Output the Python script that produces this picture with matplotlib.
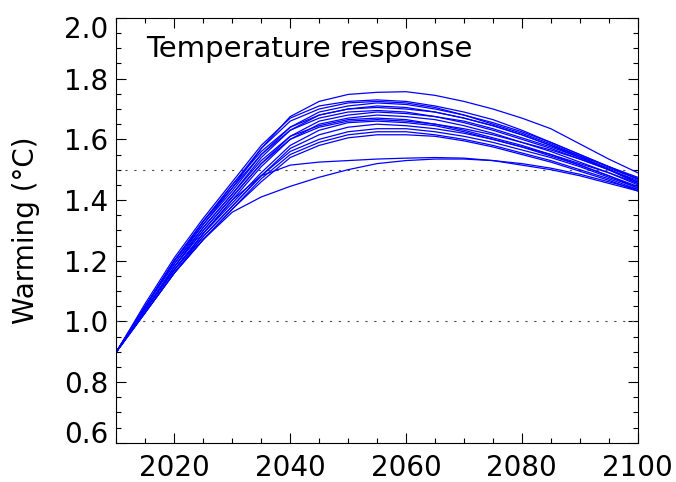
import numpy as np
import matplotlib
matplotlib.use("Agg")
import matplotlib.pyplot as plt
from matplotlib.ticker import MultipleLocator
from matplotlib.transforms import ScaledTranslation

plt.rcParams['font.family'] = ['DejaVu Sans']

# model years (5-yr steps)
years = np.arange(2010, 2101, 5)

# warming (degC) for each ensemble member
run01 = [0.90, 1.05, 1.20, 1.33, 1.44, 1.57, 1.675, 1.725, 1.748, 1.755, 1.757, 1.745, 1.725, 1.70, 1.67, 1.635, 1.585, 1.535, 1.49]
run02 = [0.90, 1.06, 1.21, 1.34, 1.46, 1.58, 1.67, 1.71, 1.725, 1.73, 1.725, 1.71, 1.69, 1.665, 1.63, 1.59, 1.55, 1.51, 1.47]
run03 = [0.90, 1.05, 1.20, 1.33, 1.45, 1.57, 1.66, 1.70, 1.72, 1.725, 1.72, 1.705, 1.68, 1.65, 1.62, 1.585, 1.545, 1.50, 1.46]
run04 = [0.90, 1.05, 1.19, 1.32, 1.43, 1.55, 1.64, 1.69, 1.71, 1.72, 1.715, 1.70, 1.68, 1.655, 1.625, 1.59, 1.55, 1.51, 1.47]
run05 = [0.90, 1.04, 1.18, 1.31, 1.42, 1.54, 1.63, 1.68, 1.70, 1.71, 1.705, 1.69, 1.67, 1.645, 1.615, 1.58, 1.54, 1.50, 1.46]
run06 = [0.90, 1.05, 1.20, 1.32, 1.44, 1.55, 1.63, 1.67, 1.69, 1.695, 1.69, 1.675, 1.655, 1.63, 1.60, 1.57, 1.535, 1.50, 1.455]
run07 = [0.90, 1.04, 1.18, 1.30, 1.41, 1.52, 1.61, 1.66, 1.68, 1.69, 1.685, 1.675, 1.66, 1.635, 1.605, 1.575, 1.54, 1.505, 1.47]
run08 = [0.90, 1.04, 1.17, 1.29, 1.40, 1.51, 1.60, 1.65, 1.67, 1.68, 1.675, 1.665, 1.645, 1.62, 1.59, 1.56, 1.525, 1.49, 1.45]
run09 = [0.90, 1.05, 1.19, 1.31, 1.42, 1.53, 1.61, 1.645, 1.665, 1.67, 1.665, 1.65, 1.63, 1.605, 1.58, 1.55, 1.515, 1.48, 1.44]
run10 = [0.90, 1.04, 1.17, 1.29, 1.39, 1.49, 1.58, 1.63, 1.655, 1.66, 1.655, 1.645, 1.625, 1.60, 1.575, 1.545, 1.515, 1.48, 1.445]
run11 = [0.90, 1.03, 1.16, 1.28, 1.38, 1.48, 1.57, 1.615, 1.64, 1.65, 1.645, 1.635, 1.62, 1.60, 1.575, 1.55, 1.52, 1.49, 1.455]
run12 = [0.90, 1.04, 1.17, 1.28, 1.38, 1.48, 1.56, 1.60, 1.625, 1.635, 1.635, 1.625, 1.61, 1.59, 1.565, 1.54, 1.51, 1.475, 1.44]
run13 = [0.90, 1.03, 1.16, 1.27, 1.37, 1.47, 1.55, 1.59, 1.615, 1.625, 1.625, 1.615, 1.60, 1.58, 1.555, 1.53, 1.50, 1.47, 1.435]
run14 = [0.90, 1.03, 1.16, 1.27, 1.37, 1.46, 1.54, 1.58, 1.605, 1.615, 1.615, 1.61, 1.595, 1.575, 1.55, 1.525, 1.495, 1.465, 1.43]
run15 = [0.90, 1.04, 1.17, 1.29, 1.40, 1.48, 1.515, 1.525, 1.53, 1.535, 1.538, 1.54, 1.538, 1.53, 1.515, 1.50, 1.48, 1.455, 1.43]
run16 = [0.90, 1.03, 1.16, 1.27, 1.36, 1.41, 1.445, 1.475, 1.50, 1.52, 1.53, 1.535, 1.535, 1.53, 1.52, 1.505, 1.485, 1.46, 1.435]
run17 = [0.90, 1.05, 1.20, 1.33, 1.45, 1.56, 1.64, 1.68, 1.70, 1.705, 1.70, 1.69, 1.67, 1.645, 1.615, 1.58, 1.545, 1.51, 1.475]
run18 = [0.90, 1.04, 1.18, 1.30, 1.41, 1.52, 1.60, 1.64, 1.66, 1.665, 1.66, 1.65, 1.635, 1.615, 1.59, 1.565, 1.535, 1.50, 1.465]

runs = [run01, run02, run03, run04, run05, run06, run07, run08, run09,
        run10, run11, run12, run13, run14, run15, run16, run17, run18]

targets = [1.0, 1.5]  # reference warming levels
xticks = [2020, 2040, 2060, 2080, 2100]
yticks = [0.6, 0.8, 1.0, 1.2, 1.4, 1.6, 1.8, 2.0]

fig = plt.figure(figsize=(6.76, 4.82), dpi=100)
ax = fig.add_axes([0.1723, 0.0815, 0.771, 0.8812])

for lev in targets:
    ax.axhline(lev, color='0.3', lw=0.8, dashes=(2, 6))

for r in runs:
    ax.plot(years, r, color='#0000ff', lw=0.9)

ax.set_xlim(2010, 2100)
ax.set_ylim(0.6, 2.0)
ax.set_xticks(xticks)
ax.set_yticks(yticks)
ax.set_yticklabels(['%.1f' % v for v in yticks])
ax.xaxis.set_minor_locator(MultipleLocator(5))
ax.yaxis.set_minor_locator(MultipleLocator(0.05))

ax.tick_params(which='both', direction='in', top=True, right=True,
               labelsize=20, width=0.8, color='k')
ax.tick_params(which='major', length=7.5)
ax.tick_params(which='minor', length=3.6)
ax.tick_params(axis='x', pad=8)
ax.tick_params(axis='y', pad=6)
for sp in ax.spines.values():
    sp.set_linewidth(0.8)

# keep the end labels of the y axis inside the frame
ylabs = ax.get_yticklabels()
ylabs[0].set_transform(ylabs[0].get_transform() + ScaledTranslation(0, 0.11, fig.dpi_scale_trans))
ylabs[-1].set_transform(ylabs[-1].get_transform() + ScaledTranslation(0, -0.09, fig.dpi_scale_trans))

ax.set_ylabel('Warming (°C)', fontsize=20)
ax.yaxis.set_label_coords(-0.147, 0.5)

ax.text(0.056, 0.9075, 'Temperature response', transform=ax.transAxes,
        fontsize=21, ha='left', va='baseline')

fig.savefig('out.png', dpi=100)
